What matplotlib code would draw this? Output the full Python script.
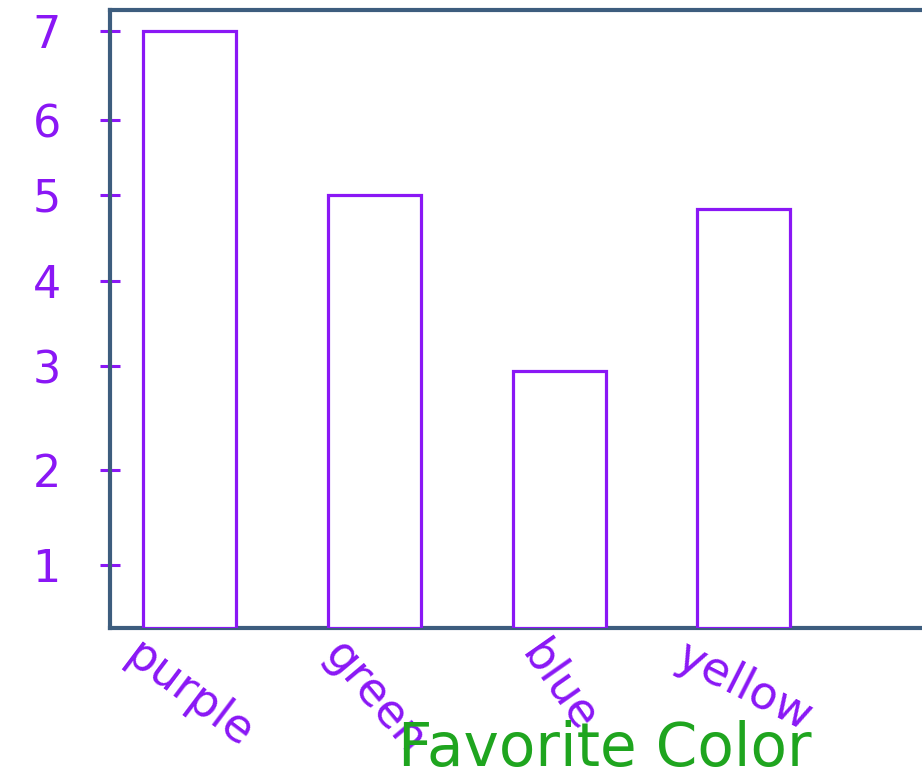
import numpy as np
import matplotlib
matplotlib.use("Agg")
import matplotlib.pyplot as plt

# ---- data ----
categories = ["purple", "green", "blue", "yellow"]
values = [7, 5, 2.95, 4.84]
y_ticks = [1, 2, 3, 4, 5, 6, 7]
y_tick_labels = ["1", "2", "3", "4", "5", "6", "7"]
x_label = "Favorite Color"

# hand-drawn (uneven) axis calibration: value -> drawn height
scale_vals = np.array([0, 1, 2, 3, 4, 5, 6, 7, 7.236])
scale_draw = np.array([0, 63, 158, 262, 347, 433, 508, 597, 618], dtype=float)


def fwd(v):
    return np.interp(v, scale_vals, scale_draw)


def inv(d):
    return np.interp(d, scale_draw, scale_vals)


purple = "#8a17f5"
spine_c = "#3d5d7e"
green_c = "#1fa51f"

fig = plt.figure(figsize=(9.22, 7.81), dpi=100)
ax = fig.add_axes([110 / 922, 153 / 781, 0.95, 618 / 781])

x = np.arange(len(categories))
ax.bar(x, values, width=0.503, facecolor="white", edgecolor=purple,
       linewidth=2.3, zorder=3)

ax.set_yscale("function", functions=(fwd, inv))
ax.set_ylim(0, 7.236)
span = 0.95 * 922 / 184.8
ax.set_xlim(-0.43, -0.43 + span)

for s in ax.spines.values():
    s.set_color(spine_c)
    s.set_linewidth(3)

ax.set_yticks(y_ticks)
ax.set_yticklabels(y_tick_labels)
ax.yaxis.set_minor_locator(matplotlib.ticker.NullLocator())
ax.tick_params(axis="y", direction="inout", length=15, width=2.2,
               color=purple, labelcolor=purple, labelsize=32, pad=28)

ax.set_xticks(x)
ax.tick_params(axis="x", length=0, labelcolor=purple, labelsize=33, pad=4)
rotations = [-37, -50, -55, -27]
ax.set_xticklabels(categories)
for lab, r in zip(ax.get_xticklabels(), rotations):
    lab.set_rotation(r)
    lab.set_ha("center")
    lab.set_va("top")

fig.text(605 / 922, 2 / 781, x_label, color=green_c, fontsize=43,
         ha="center", va="bottom")

fig.savefig("out.png", dpi=100)
